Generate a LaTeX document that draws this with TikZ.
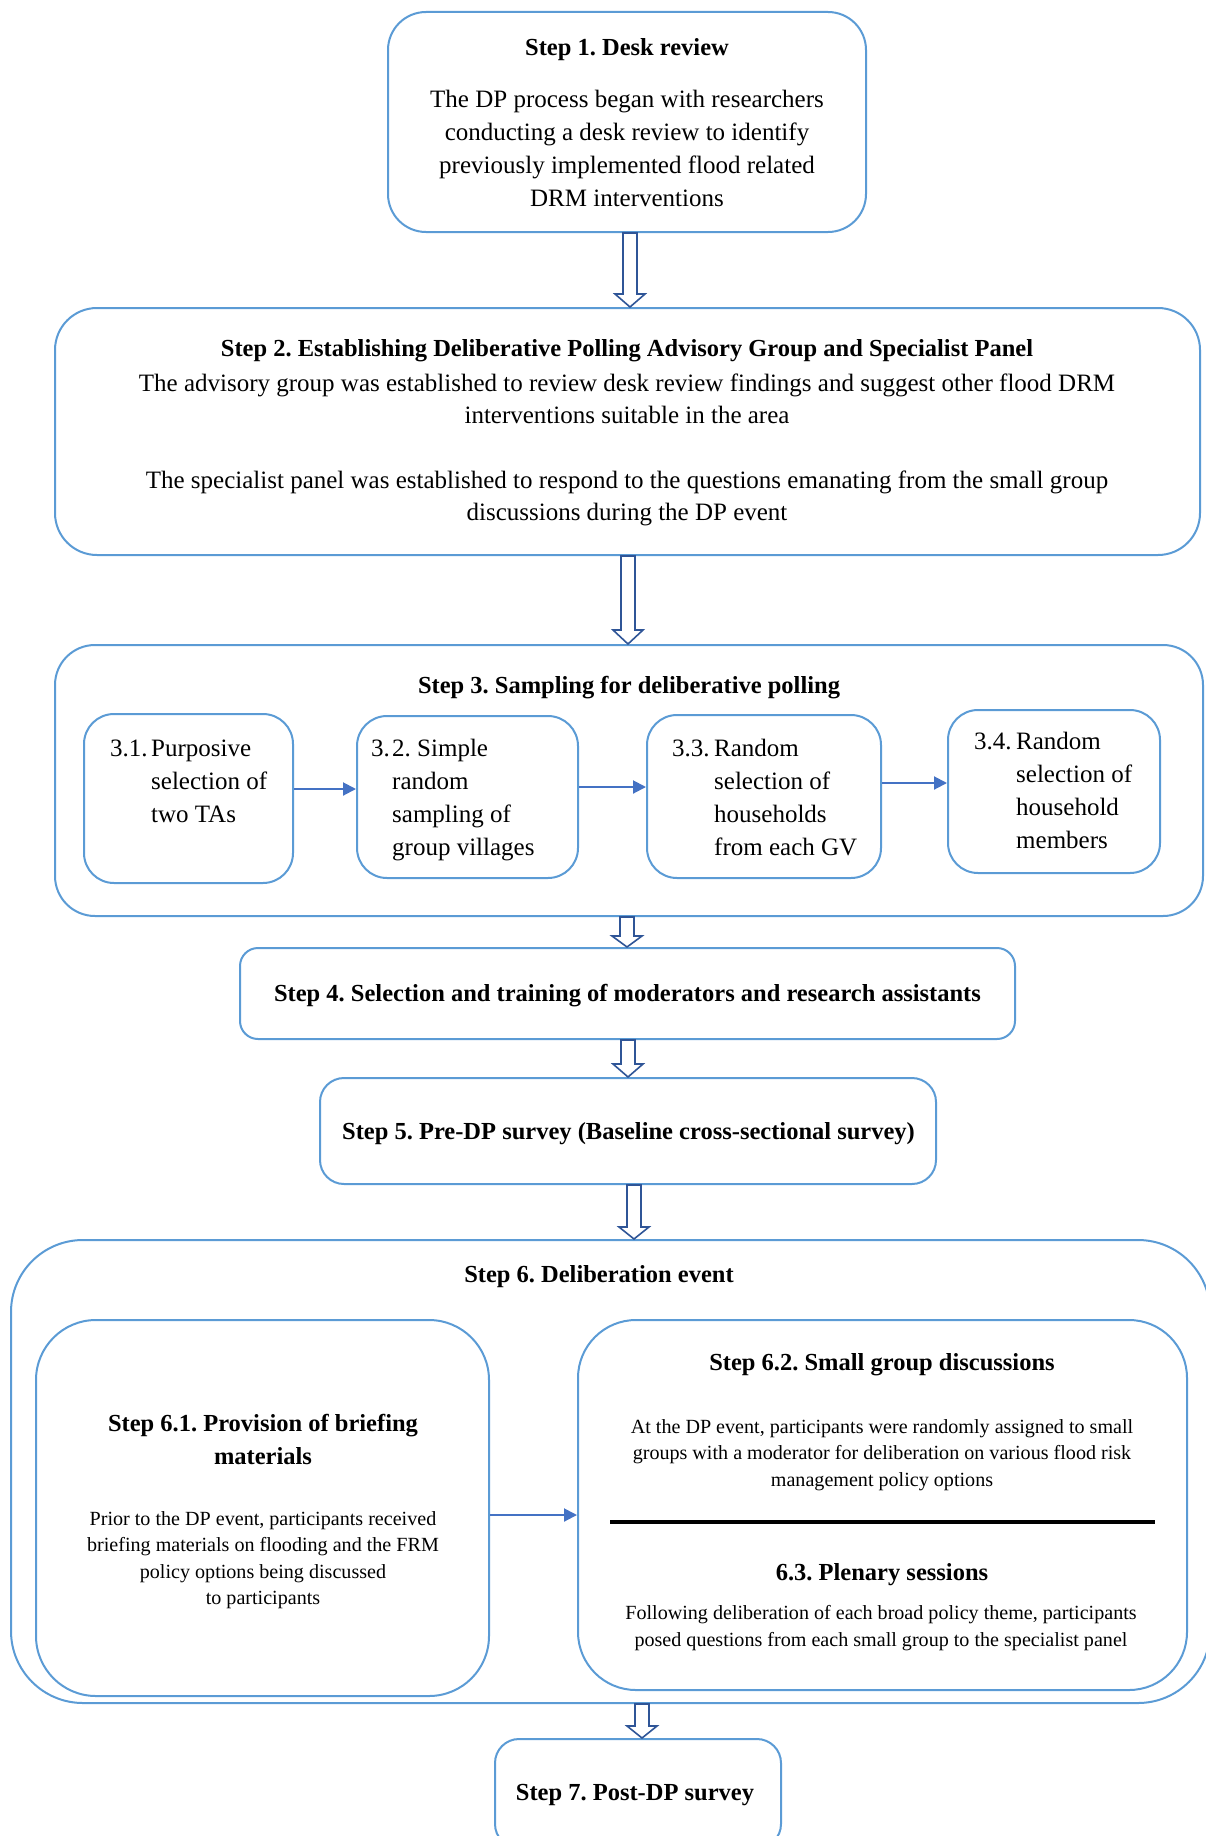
\documentclass[tikz,border=0pt]{standalone}
\usepackage{fontspec}
\setmainfont{Liberation Serif}
\usetikzlibrary{calc,arrows.meta}
\definecolor{boxblue}{RGB}{91,155,213}
\definecolor{arrdark}{RGB}{47,85,151}
\definecolor{flowblue}{RGB}{68,114,196}
\frenchspacing
\newcommand{\mainsz}{\fontsize{25}{33}\selectfont}
\newcommand{\ttlsz}{\fontsize{24.5}{33}\selectfont}
\newcommand{\smallsz}{\fontsize{20.1}{26.5}\selectfont}
\newcommand{\blkarrow}[4]{%
  \draw[blockarrow] let \p1=(#2.south), \p2=(#3.north) in
   ({#1pt-7pt},\y1) -- ({#1pt+7pt},\y1) -- ({#1pt+7pt},{\y2+#4pt}) -- ({#1pt+15pt},{\y2+#4pt})
   -- ({#1pt},\y2) -- ({#1pt-15pt},{\y2+#4pt}) -- ({#1pt-7pt},{\y2+#4pt}) -- cycle;}
\begin{document}
\begin{tikzpicture}[x=1pt,y=-1pt,
  stepbox/.style={draw=boxblue, line width=2pt, inner sep=0pt, rounded corners=#1},
  stepbox/.default=30pt,
  blockarrow/.style={draw=arrdark, line width=1.6pt, fill=white, line join=miter},
  flow/.style={draw=flowblue, line width=2pt, -{Triangle[length=13pt,width=13pt]}},
  txt/.style={inner sep=0pt, align=center, font=\mainsz},
  ttl/.style={inner sep=0pt, align=center, font=\ttlsz\bfseries, yshift=-2pt},
  smtxt/.style={inner sep=0pt, align=center, font=\smallsz, yshift=-2pt},
  lst/.style={inner sep=0pt, anchor=base west, font=\mainsz, yshift=-1pt}]
\useasboundingbox (0,0) rectangle (1206,1836);
\clip (0,0) rectangle (1206,1836);

% boxes
\node[stepbox=38pt, minimum width=478pt, minimum height=220pt] (s1) at (627,122) {};
\node[stepbox=42pt, minimum width=1145pt, minimum height=247pt] (s2) at (627.5,431.5) {};
\node[stepbox=40pt, minimum width=1148pt, minimum height=271pt] (s3) at (629,780.5) {};
\node[stepbox=30pt, minimum width=209pt, minimum height=169pt] (s31) at (188.5,798.5) {};
\node[stepbox=30pt, minimum width=221pt, minimum height=162pt] (s32) at (467.5,797) {};
\node[stepbox=30pt, minimum width=234pt, minimum height=163pt] (s33) at (764,796.5) {};
\node[stepbox=30pt, minimum width=212pt, minimum height=163pt] (s34) at (1054,791.5) {};
\node[stepbox=18pt, minimum width=775pt, minimum height=91pt] (s4) at (627.5,993.5) {};
\node[stepbox=24pt, minimum width=616pt, minimum height=106pt] (s5) at (628,1131) {};
\node[stepbox=72pt, minimum width=1199pt, minimum height=463pt] (s6) at (610.5,1471.5) {};
\node[stepbox=60pt, minimum width=453pt, minimum height=376pt] (s61) at (262.5,1508) {};
\node[stepbox=58pt, minimum width=609pt, minimum height=370pt] (s62) at (882.5,1505) {};
\node[stepbox=24pt, minimum width=286pt, minimum height=109pt] (s7) at (638,1793.5) {};

% texts
\node[ttl] (t1h) at (627,48) {Step 1. Desk review};
\node[txt] (t1b) at (627,148.5) {The DP process began with researchers\\conducting a desk review to identify\\previously implemented flood related\\DRM interventions};
\node[ttl] (t2h) at (627,349) {Step 2. Establishing Deliberative Polling Advisory Group and Specialist Panel};
\node[txt, font=\fontsize{25}{32}\selectfont, yshift=-1pt] (t2a) at (627,397.5) {The advisory group was established to review desk review findings and suggest other flood DRM\\interventions suitable in the area};
\node[txt, font=\fontsize{25}{32}\selectfont, yshift=-1pt] (t2b) at (627,497.5) {The specialist panel was established to respond to the questions emanating from the small group\\discussions during the DP event};
\node[ttl] (t3h) at (629,686) {Step 3. Sampling for deliberative polling};
\node[lst] (t31) at (110,755) {\begin{tabular}[t]{@{}l@{}l@{}}\makebox[41pt][l]{3.1.} & Purposive\\ & selection of\\ & two TAs\end{tabular}};
\node[lst] (t32) at (371,755) {\begin{tabular}[t]{@{}l@{}l@{}}\makebox[21pt][l]{3.} & 2. Simple\\ & random\\ & sampling of\\ & group villages\end{tabular}};
\node[lst] (t33) at (672,755) {\begin{tabular}[t]{@{}l@{}l@{}}\makebox[42pt][l]{3.3.} & Random\\ & selection of\\ & households\\ & from each GV\end{tabular}};
\node[lst] (t34) at (974,748) {\begin{tabular}[t]{@{}l@{}l@{}}\makebox[42pt][l]{3.4.} & Random\\ & selection of\\ & household\\ & members\end{tabular}};
\node[ttl] (t4) at (627.5,994) {Step 4. Selection and training of moderators and research assistants};
\node[ttl] (t5) at (628.5,1132) {Step 5. Pre-DP survey (Baseline cross-sectional survey)};
\node[ttl] (t6) at (599,1275) {Step 6. Deliberation event};
\node[ttl, yshift=2.5pt] (t61h) at (263,1439.5) {Step 6.1. Provision of briefing\\materials};
\node[smtxt] (t61b) at (263,1558) {Prior to the DP event, participants received\\briefing materials on flooding and the FRM\\policy options being discussed\\to participants};
\node[ttl] (t62h) at (882,1363) {Step 6.2. Small group discussions};
\node[smtxt] (t62b) at (882,1453) {At the DP event, participants were randomly assigned to small\\groups with a moderator for deliberation on various flood risk\\management policy options};
\node[ttl] (t63h) at (882,1573) {6.3. Plenary sessions};
\node[smtxt] (t63b) at (881,1626) {Following deliberation of each broad policy theme, participants\\posed questions from each small group to the specialist panel};
\node[ttl] (t7) at (635,1793) {Step 7. Post-DP survey};

% separator in 6.2
\coordinate (sepL) at (610,1522);
\coordinate (sepR) at (1155,1522);
\draw[line width=3.5pt, black] (sepL) -- (sepR);

% flow arrows
\draw[flow] (s31.east |- 0,789) -- (s32.west |- 0,789);
\draw[flow] (s32.east |- 0,787) -- (s33.west |- 0,787);
\draw[flow] (s33.east |- 0,783) -- (s34.west |- 0,783);
\draw[flow] (s61.east |- 0,1515) -- (s62.west |- 0,1515);

% block arrows
\blkarrow{630}{s1}{s2}{13}
\blkarrow{628}{s2}{s3}{14}
\blkarrow{627}{s3}{s4}{11}
\blkarrow{628}{s4}{s5}{13}
\blkarrow{634}{s5}{s6}{12}
\blkarrow{642}{s6}{s7}{12}
\end{tikzpicture}
\end{document}
